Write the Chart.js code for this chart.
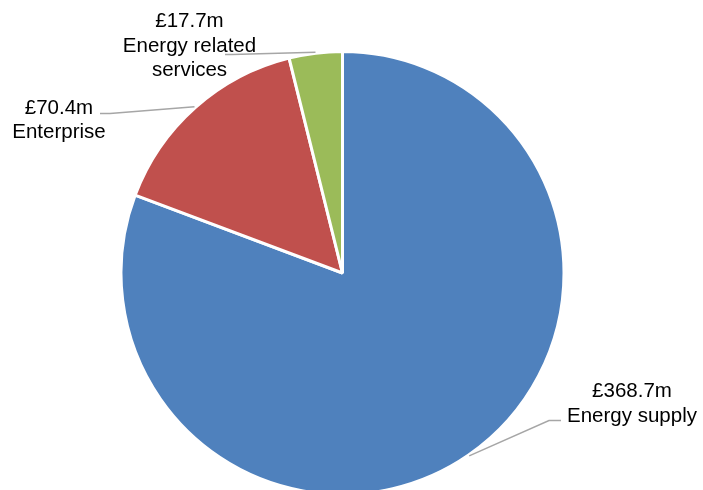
<!DOCTYPE html>
<html>
<head>
<meta charset="utf-8">
<title>Revenue by segment</title>
<script src="https://cdn.jsdelivr.net/npm/chart.js@4/dist/chart.umd.min.js"></script>
<style>
    html, body { margin: 0; padding: 0; background: #fff; }
    #wrap { position: relative; width: 703px; height: 490px; }
</style>
</head>
<body>
<div id="wrap"><canvas id="revenueChart"></canvas></div>
<script>
// Revenue split, £m
const segments = ['Energy supply', 'Enterprise', 'Energy related services'];
const revenue = [368.7, 70.4, 17.7];
const segmentLines = [['Energy supply'], ['Enterprise'], ['Energy related', 'services']];
const segmentColours = ['#4F81BD', '#C0504D', '#9BBB59'];

// Where each data label sits: text centre x, first baseline y, and the
// elbow / end of its leader line
const labelLayout = [
    { x: 632, y: 397, elbow: [549, 420.5], end: [561, 420.5] },
    { x: 59, y: 113.5, elbow: [110, 113.5], end: [100, 113.5] },
    { x: 189.5, y: 27, elbow: [232, 54.5], end: [225, 54.5] }
];

const FONT = '20.5px "Liberation Sans", Arial, sans-serif';
const LINE_HEIGHT = 24.5;

function formatMoney(v) {
    return '£' + v.toFixed(1) + 'm';
}

const leaderLabels = {
    id: 'leaderLabels',
    afterDatasetsDraw(chart) {
        const ctx = chart.ctx;
        const meta = chart.getDatasetMeta(0);
        ctx.save();

        meta.data.forEach((arc, i) => {
            const p = arc.getProps(['x', 'y', 'startAngle', 'endAngle', 'outerRadius'], true);
            const mid = (p.startAngle + p.endAngle) / 2;
            const r = p.outerRadius + 1;
            const sx = p.x + Math.cos(mid) * r;
            const sy = p.y + Math.sin(mid) * r;
            const lay = labelLayout[i];

            // leader line
            ctx.strokeStyle = '#A6A6A6';
            ctx.lineWidth = 1.5;
            ctx.beginPath();
            ctx.moveTo(sx, sy);
            ctx.lineTo(lay.elbow[0], lay.elbow[1]);
            ctx.lineTo(lay.end[0], lay.end[1]);
            ctx.stroke();

            // value + category name
            ctx.fillStyle = '#000';
            ctx.font = FONT;
            ctx.textAlign = 'center';
            ctx.textBaseline = 'alphabetic';
            const lines = [formatMoney(revenue[i])].concat(segmentLines[i]);
            lines.forEach((t, k) => {
                ctx.fillText(t, lay.x, lay.y + k * LINE_HEIGHT);
            });
        });

        ctx.restore();
    }
};

new Chart(document.getElementById('revenueChart'), {
    type: 'pie',
    data: {
        labels: segments,
        datasets: [{
            data: revenue,
            backgroundColor: segmentColours,
            borderColor: '#ffffff',
            borderWidth: 3,
            radius: 221.5,
            clip: false
        }]
    },
    options: {
        responsive: true,
        maintainAspectRatio: false,
        animation: false,
        layout: {
            padding: { left: 0, right: 18, top: 56, bottom: 0 }
        },
        plugins: {
            legend: { display: false },
            tooltip: { enabled: false }
        }
    },
    plugins: [leaderLabels]
});
</script>
</body>
</html>
